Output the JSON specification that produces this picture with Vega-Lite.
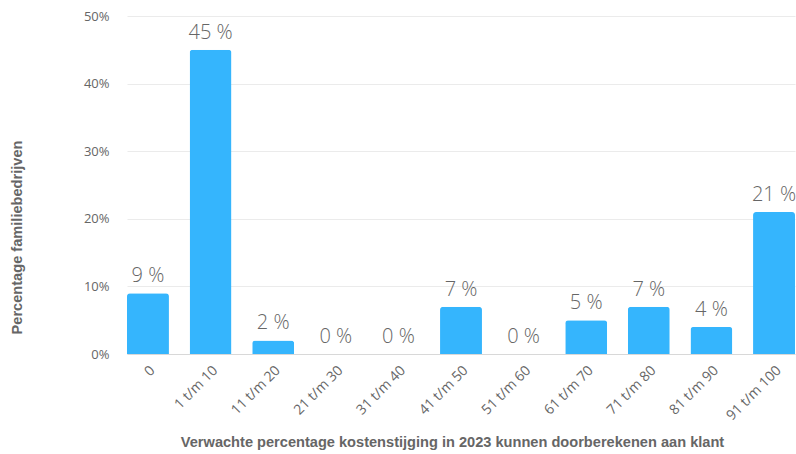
{
  "$schema": "https://vega.github.io/schema/vega-lite/v6.json",
  "autosize": {"type": "none"},
  "padding": {"left": 127, "top": 16, "right": 1, "bottom": 100},
  "width": 668,
  "height": 338,
  "background": "white",
  "data": {"values": [
    {"cat": "0", "v": 9, "label": "9 %"},
    {"cat": "1 t/m 10", "v": 45, "label": "45 %"},
    {"cat": "11 t/m 20", "v": 2, "label": "2 %"},
    {"cat": "21 t/m 30", "v": 0, "label": "0 %"},
    {"cat": "31 t/m 40", "v": 0, "label": "0 %"},
    {"cat": "41 t/m 50", "v": 7, "label": "7 %"},
    {"cat": "51 t/m 60", "v": 0, "label": "0 %"},
    {"cat": "61 t/m 70", "v": 5, "label": "5 %"},
    {"cat": "71 t/m 80", "v": 7, "label": "7 %"},
    {"cat": "81 t/m 90", "v": 4, "label": "4 %"},
    {"cat": "91 t/m 100", "v": 21, "label": "21 %"}
  ]},
  "config": {
    "view": {"stroke": null},
    "font": "Open Sans"
  },
  "encoding": {
    "x": {
      "field": "cat", "type": "nominal", "sort": null,
      "scale": {"paddingInner": 0.33, "paddingOuter": 0},
      "axis": {
        "title": "Verwachte percentage kostenstijging in 2023 kunnen doorberekenen aan klant",
        "titleFont": "Liberation Sans", "titleFontWeight": "bold", "titleFontSize": 14.6, "titleColor": "#666666",
        "titleX": 325, "titleY": 88, "titleBaseline": "middle",
        "labelAngle": -45, "labelFontSize": 14, "labelColor": "#666666", "labelFont": "Open Sans",
        "labelPadding": 9,
        "ticks": false, "domain": true, "domainColor": "#d8d8d8"
      }
    },
    "y": {
      "field": "v", "type": "quantitative",
      "scale": {"domain": [0, 50], "nice": false},
      "axis": {
        "title": "Percentage familiebedrijven",
        "titleFont": "Liberation Sans", "titleFontWeight": "bold", "titleFontSize": 14.6, "titleColor": "#666666",
        "titleX": -110, "titleY": 221, "titleAngle": -90, "titleBaseline": "middle", "titleAlign": "center",
        "values": [0, 10, 20, 30, 40, 50],
        "labelExpr": "datum.value + '%'",
        "labelFontSize": 13, "labelColor": "#666666", "labelPadding": 18,
        "ticks": false, "domain": false,
        "grid": true, "gridColor": "#ebebeb"
      }
    }
  },
  "layer": [
    {
      "mark": {"type": "bar", "color": "#35b5fd", "cornerRadiusTopLeft": 3, "cornerRadiusTopRight": 3}
    },
    {
      "mark": {"type": "text", "baseline": "bottom", "dy": -7, "fontSize": 20, "fontWeight": 300, "color": "#666666", "font": "Open Sans"},
      "encoding": {"text": {"field": "label"}}
    }
  ]
}
